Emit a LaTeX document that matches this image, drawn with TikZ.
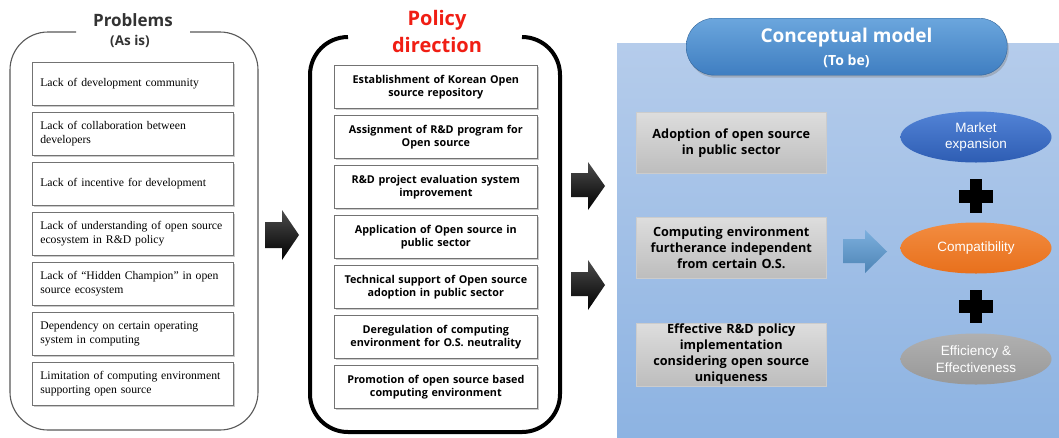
\documentclass[tikz,border=0pt]{standalone}
\usepackage{fontspec}
\setmainfont{Liberation Serif}
\newfontfamily\osans{Open Sans}
\newfontfamily\asans{Liberation Sans}
\usetikzlibrary{shapes.geometric,shadows}
\definecolor{outl}{HTML}{595959}
\definecolor{thick}{HTML}{333333}
\definecolor{polred}{HTML}{F01E14}
\definecolor{panelT}{HTML}{B5CCEB}
\definecolor{panelB}{HTML}{8DB3E2}
\definecolor{pillT}{HTML}{6BA6DD}
\definecolor{pillB}{HTML}{3F7EC1}
\definecolor{greyT}{HTML}{DDDDDD}
\definecolor{greyB}{HTML}{BDBDBD}
\definecolor{mktT}{HTML}{5283D6}
\definecolor{mktB}{HTML}{2E5DB3}
\definecolor{cmpT}{HTML}{F28C40}
\definecolor{cmpB}{HTML}{E8701C}
\definecolor{effT}{HTML}{B0B0B0}
\definecolor{effB}{HTML}{989898}
\definecolor{barrow}{HTML}{5B9BD5}
\tikzset{
  softshadow/.style={drop shadow={shadow xshift=2pt,shadow yshift=-2pt,fill=black!40,opacity=0.5}},
  probbox/.style={draw=black!55,fill=white,line width=0.7pt,softshadow,anchor=north west,
    minimum height=43pt,text width=185pt,inner xsep=8pt,inner ysep=2pt,align=left,
    font=\fontsize{11.7}{13.5}\selectfont},
  polbox/.style={draw=black!55,fill=white,line width=0.7pt,softshadow,anchor=north west,
    minimum height=43pt,text width=195pt,inner xsep=4pt,inner ysep=2pt,align=center,
    font=\osans\bfseries\fontsize{10.8}{13.3}\selectfont},
  greybox/.style={draw=black!20,top color=greyT,bottom color=greyB,line width=0.5pt,anchor=north west,
    minimum height=61pt,text width=182pt,inner xsep=4pt,inner ysep=1pt,align=center,
    font=\osans\bfseries\fontsize{12.7}{16}\selectfont},
  goal/.style={ellipse,minimum width=151pt,minimum height=51pt,inner sep=0pt,align=center,
    text=white,font=\asans\fontsize{13.5}{16.5}\selectfont},
  blockarrow/.style={top color=black!70,bottom color=black,draw=none},
}
\begin{document}
\begin{tikzpicture}[x=1pt,y=-1pt]
\useasboundingbox (0,0) rectangle (1059,437);
\fill[white] (0,0) rectangle (1059,437);

% ---------- Problems panel ----------
\draw[outl,line width=1.1pt,rounded corners=38pt]
  (76,32) -- (10,32) -- (10,430) -- (258,430) -- (258,32) -- (190,32);
\node[font=\osans\bfseries\fontsize{17}{19}\selectfont,text=thick] (probT) at (133,20) {Problems};
\node[font=\osans\bfseries\fontsize{13.5}{15}\selectfont,text=thick] (probS) at (130,41) {(As is)};

\node[probbox] (p1) at (32,62)  {Lack of development community};
\node[probbox] (p2) at (32,112) {Lack of collaboration between\\developers};
\node[probbox] (p3) at (32,162) {Lack of incentive for development};
\node[probbox] (p4) at (32,212) {Lack of understanding of open source\\ecosystem in R\&D policy};
\node[probbox] (p5) at (32,262) {Lack of ``Hidden Champion'' in open\\source ecosystem};
\node[probbox] (p6) at (32,312) {Dependency on certain operating\\system in computing};
\node[probbox] (p7) at (32,362) {Limitation of computing environment\\supporting open source};

% ---------- arrow 1 ----------
\path[blockarrow] (265,222) -- (282,222) -- (282,210) -- (299,235) -- (282,260) -- (282,248) -- (265,248) -- cycle;

% ---------- Policy panel ----------
\draw[thick,line width=4pt,rounded corners=38pt]
  (348,37) -- (310,37) -- (310,432) -- (560,432) -- (560,37) -- (522,37);
\node[font=\osans\bfseries\fontsize{20}{27}\selectfont,text=polred,align=center] (polT) at (437,31) {Policy\\direction};

\node[polbox] (d1) at (334,65)  {Establishment of Korean Open\\source repository};
\node[polbox] (d2) at (334,115) {Assignment of R\&D program for\\Open source};
\node[polbox] (d3) at (334,165) {R\&D project evaluation system\\improvement};
\node[polbox] (d4) at (334,215) {Application of Open source in\\public sector};
\node[polbox] (d5) at (334,265) {Technical support of Open source\\adoption in public sector};
\node[polbox] (d6) at (334,315) {Deregulation of computing\\environment for O.S. neutrality};
\node[polbox] (d7) at (334,365) {Promotion of open source based\\computing environment};

% ---------- arrows 2,3 ----------
\path[blockarrow] (571,173) -- (588,173) -- (588,162) -- (605,186) -- (588,210) -- (588,197) -- (571,197) -- cycle;
\path[blockarrow] (571,272) -- (588,272) -- (588,260) -- (605,285) -- (588,310) -- (588,296) -- (571,296) -- cycle;

% ---------- Conceptual model panel ----------
\shade[top color=panelT,bottom color=panelB] (617,43) rectangle (1059,437);
\node[draw=pillB!80!black,line width=0.4pt,top color=pillT,bottom color=pillB,rounded corners=28pt,
  minimum width=321pt,minimum height=57pt,anchor=north west,inner sep=0pt,
  drop shadow={shadow xshift=1.5pt,shadow yshift=-2.5pt,fill=black!50,opacity=0.4}] (pill) at (686,18) {};
\node[text=white,font=\osans\bfseries\fontsize{19}{21}\selectfont] (cmT) at (846.5,38) {Conceptual model};
\node[text=white,font=\osans\bfseries\fontsize{14}{16}\selectfont] (cmS) at (846.5,61) {(To be)};

\node[greybox] (g1) at (636,112) {Adoption of open source\\in public sector};
\node[greybox] (g2) at (636,217) {Computing environment\\furtherance independent\\from certain O.S.};
\node[greybox] (g3) at (636,323) {Effective R\&D policy\\implementation\\considering open source\\uniqueness};

\node[goal,top color=mktT,bottom color=mktB] (e1) at (976,137) {Market\\expansion};
\node[goal,top color=cmpT,bottom color=cmpB] (e2) at (976,248) {Compatibility};
\node[goal,top color=effT,bottom color=effB] (e3) at (976,359) {Efficiency \&\\Effectiveness};

% plus signs
\fill[black] (959,189.5) rectangle (993,202.5);
\fill[black] (970,179) rectangle (982,213);
\fill[black] (959,300) rectangle (993,313);
\fill[black] (970,290) rectangle (982,323);

% blue arrow
\path[top color=barrow!80!white,bottom color=barrow!85!black]
  (843,239) -- (865,239) -- (865,230) -- (887,251.5) -- (865,273) -- (865,263) -- (843,263) -- cycle;
\end{tikzpicture}
\end{document}
